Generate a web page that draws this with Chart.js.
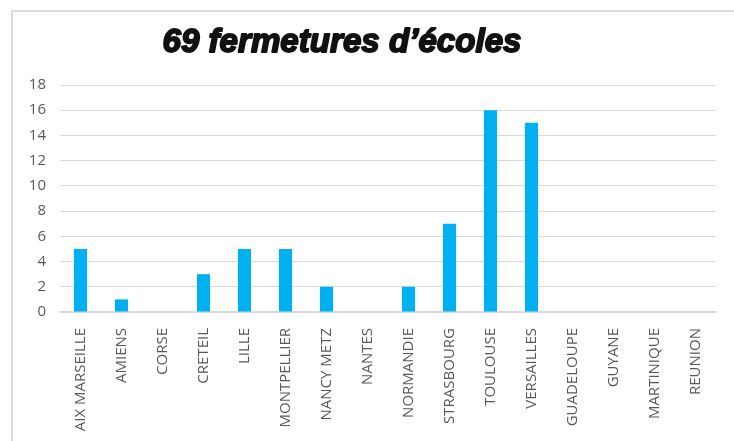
<!DOCTYPE html>
<html>
<head>
<meta charset="utf-8">
<script src="https://cdn.jsdelivr.net/npm/chart.js@4"></script>
<style>
  html, body { margin: 0; padding: 0; background: #fff; overflow: hidden; }
  #frame { position: absolute; left: 11px; top: 10px; width: 760px; height: 480px; border: 2px solid #dcdcdc; box-sizing: border-box; }
  #wrap { position: absolute; left: 0; top: 0; width: 734px; height: 441px; }
</style>
</head>
<body>
<div id="frame"></div>
<div id="wrap"><canvas id="chart"></canvas></div>
<script>
const academies = ['AIX MARSEILLE', 'AMIENS', 'CORSE', 'CRETEIL', 'LILLE', 'MONTPELLIER', 'NANCY METZ', 'NANTES',
  'NORMANDIE', 'STRASBOURG', 'TOULOUSE', 'VERSAILLES', 'GUADELOUPE', 'GUYANE', 'MARTINIQUE', 'REUNION'];
const fermetures = [5, 1, 0, 3, 5, 5, 2, 0, 2, 7, 16, 15, 0, 0, 0, 0];
const yTicks = [0, 2, 4, 6, 8, 10, 12, 14, 16, 18];
const titre = '69 fermetures d\u2019écoles';

// titre gras italique, ajusté à la largeur du modèle
const TitlePlugin = {
  id: 'bigTitle',
  afterDraw(chart) {
    const ctx = chart.ctx;
    ctx.save();
    ctx.font = 'italic bold 33px "Liberation Sans", sans-serif';
    const w = ctx.measureText(titre).width;
    ctx.translate(342, 52);
    ctx.scale(359 / w, 1);
    ctx.fillStyle = '#111';
    ctx.strokeStyle = '#111';
    ctx.lineWidth = 1.8;
    ctx.lineJoin = 'round';
    ctx.textAlign = 'center';
    ctx.fillText(titre, 0, 0);
    ctx.strokeText(titre, 0, 0);
    ctx.restore();
  }
};

new Chart(document.getElementById('chart'), {
  type: 'bar',
  data: {
    labels: academies,
    datasets: [{ data: fermetures, backgroundColor: '#00b0f0', borderWidth: 0, barPercentage: 0.32, categoryPercentage: 1 }]
  },
  options: {
    responsive: true, maintainAspectRatio: false, animation: false,
    layout: { padding: { top: 85, right: 18, left: 0, bottom: 0 } },
    plugins: { legend: { display: false }, tooltip: { enabled: false } },
    scales: {
      x: {
        grid: { display: false },
        border: { display: true, color: '#d9d9d9', width: 1.5 },
        ticks: { color: '#595959', font: { family: '"Open Sans"', size: 15 }, minRotation: 90, maxRotation: 90, autoSkip: false, padding: 8 },
        afterFit: s => { s.height = 129; }
      },
      y: {
        min: 0, max: 18,
        afterBuildTicks: s => { s.ticks = yTicks.map(v => ({ value: v })); },
        grid: { color: '#d9d9d9', lineWidth: 1, drawTicks: false },
        border: { display: false },
        ticks: { color: '#595959', font: { family: '"Open Sans"', size: 15 }, padding: 14 },
        afterFit: s => { s.width = 60; }
      }
    }
  },
  plugins: [TitlePlugin]
});
</script>
</body>
</html>
